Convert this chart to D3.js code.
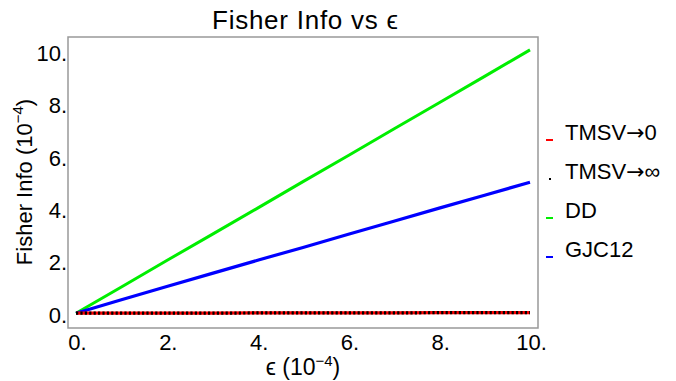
<!DOCTYPE html>
<html>
<head>
<meta charset="utf-8">
<script src="https://cdn.jsdelivr.net/npm/d3@7"></script>
<style>
	body { margin: 0; background: #fff; }
	svg text { font-family: "Liberation Sans", Arial, sans-serif; fill: #000; }
	.frame { fill: none; stroke: #999; stroke-width: 1.5; }
	.sym { font-family: "DejaVu Sans", sans-serif; }
</style>
</head>
<body>
<svg id="chart" width="676" height="381"></svg>
<script>
const eps = [0, 1, 2, 3, 4, 5, 6, 7, 8, 9, 10];
const tmsvZero = [0.05, 0.05, 0.05, 0.05, 0.06, 0.06, 0.06, 0.06, 0.07, 0.07, 0.07];
const tmsvInf = [0.05, 0.05, 0.05, 0.05, 0.06, 0.06, 0.06, 0.06, 0.07, 0.07, 0.07];
const dd = [0.05, 1.05, 2.06, 3.06, 4.06, 5.07, 6.07, 7.08, 8.08, 9.09, 10.1];
const gjc12 = [0.05, 0.56, 1.07, 1.57, 2.07, 2.56, 3.06, 3.56, 4.06, 4.55, 5.05];
const xTicks = [0, 2, 4, 6, 8, 10];
const yTicks = [0, 2, 4, 6, 8, 10];
const legendNames = [["TMSV", "\u2192", "0"], ["TMSV", "\u2192", "\u221e"], ["DD", "", ""], ["GJC12", "", ""]];

const svg = d3.select("#chart");
const frame = { left: 68, right: 538, top: 37, bottom: 328 };

const x = d3.scaleLinear().domain([0, 10]).range([76, 530]);
const y = d3.scaleLinear().domain([0, 10]).range([314.5, 52.5]);

// frame
svg.append("rect")
	.attr("class", "frame")
	.attr("x", frame.left)
	.attr("y", frame.top)
	.attr("width", frame.right - frame.left)
	.attr("height", frame.bottom - frame.top);

// tick labels only, no tick marks
const xAxis = d3.axisBottom(x).tickValues(xTicks).tickSize(0).tickPadding(0)
	.tickFormat(d => d + ".");
svg.append("g")
	.attr("transform", "translate(1," + (frame.bottom + 22) + ")")
	.call(xAxis)
	.call(g => g.select(".domain").remove())
	.call(g => g.selectAll("text")
		.attr("dy", 0).attr("y", 0)
		.style("font-family", "Liberation Sans, Arial, sans-serif")
		.style("font-size", "22px"));

const yAxis = d3.axisLeft(y).tickValues(yTicks).tickSize(0).tickPadding(0)
	.tickFormat(d => d + ".");
svg.append("g")
	.attr("transform", "translate(" + (frame.left - 1) + ",0)")
	.call(yAxis)
	.call(g => g.select(".domain").remove())
	.call(g => g.selectAll("text")
		.attr("dy", "0.35em")
		.style("font-family", "Liberation Sans, Arial, sans-serif")
		.style("font-size", "22px"));

// lines
const line = vals => d3.line()
	.x((d, i) => x(eps[i]))
	.y(d => y(d))(vals);

svg.append("path").attr("d", line(dd))
	.attr("fill", "none").attr("stroke", "#00ee00").attr("stroke-width", 3);
svg.append("path").attr("d", line(gjc12))
	.attr("fill", "none").attr("stroke", "#0000ff").attr("stroke-width", 3.2);
svg.append("path").attr("d", line(tmsvZero))
	.attr("fill", "none").attr("stroke", "#ff0000").attr("stroke-width", 3.2);
svg.append("path").attr("d", line(tmsvInf))
	.attr("fill", "none").attr("stroke", "#000").attr("stroke-width", 3.2)
	.attr("stroke-dasharray", "2.2,2.2");

// title
svg.append("text")
	.attr("x", 305).attr("y", 29)
	.attr("text-anchor", "middle")
	.attr("textLength", 186)
	.attr("lengthAdjust", "spacing")
	.style("font-size", "26px")
	.text("Fisher Info vs \u03f5");

// axis titles
const xt = svg.append("text")
	.attr("x", 303).attr("y", 375)
	.attr("text-anchor", "middle")
	.style("font-size", "23px");
xt.append("tspan").text("\u03f5 (10");
xt.append("tspan").attr("dy", -9).style("font-size", "15px").text("\u22124");
xt.append("tspan").attr("dy", 9).text(")");

const yt = svg.append("text")
	.attr("transform", "translate(32,182) rotate(-90)")
	.attr("text-anchor", "middle")
	.style("font-size", "22px");
yt.append("tspan").text("Fisher Info (10");
yt.append("tspan").attr("dy", -9).style("font-size", "15px").text("\u22124");
yt.append("tspan").attr("dy", 9).text(")");

// legend
const legendColors = ["#ff0000", "#000", "#00ee00", "#0000ff"];
const leg = svg.append("g").selectAll("g")
	.data(legendNames)
	.join("g")
	.attr("transform", (d, i) => "translate(546," + (140 + i * 39) + ")");
leg.append("line")
	.attr("x1", (d, i) => i == 1 ? 3 : 0)
	.attr("x2", (d, i) => i == 1 ? 5 : 7)
	.attr("y1", 0).attr("y2", 0)
	.attr("stroke", (d, i) => legendColors[i])
	.attr("stroke-width", 2);
const lt = leg.append("text")
	.attr("x", 19).attr("y", 0)
	.style("font-size", "22px");
lt.append("tspan").text(d => d[0]);
lt.append("tspan").attr("class", "sym").text(d => d[1]);
lt.append("tspan").text(d => d[2]);
</script>
</body>
</html>
